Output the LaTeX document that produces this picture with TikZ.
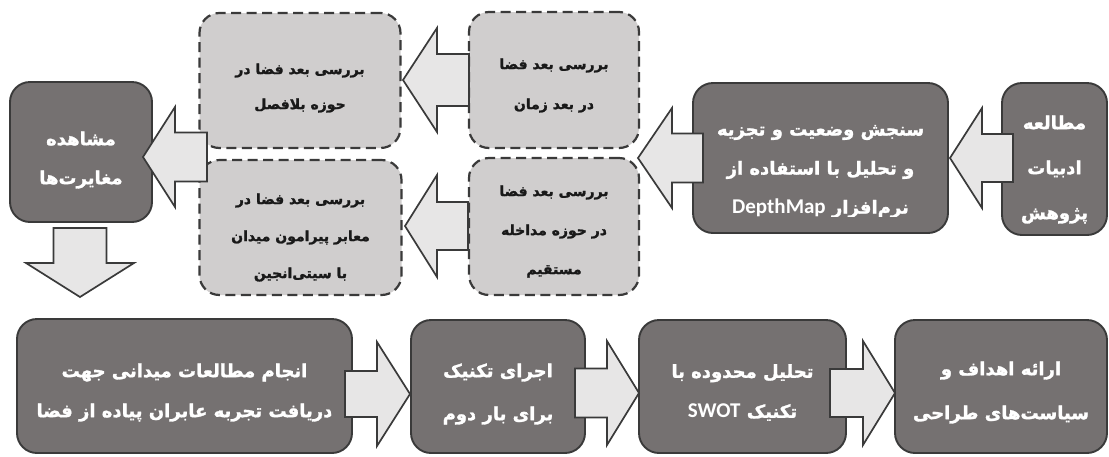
\documentclass[tikz,border=0pt]{standalone}
\usepackage{fontspec}
\newfontfamily\fa[Script=Arabic, BoldFeatures={FakeBold=1.6}]{DejaVu Sans}
\newfontfamily\lat{Carlito}
\TeXXeTstate=1
\definecolor{darkfill}{HTML}{757171}
\definecolor{dashfill}{HTML}{D0CECE}
\definecolor{arrowfill}{HTML}{E7E6E6}
\definecolor{edgecol}{HTML}{3A3A3A}
\newcommand\harrow[6]{\draw[blockarrow] (#1,#2) -- (#3,#2-#5) -- (#3,#2-#6) -- (#4,#2-#6) -- (#4,#2+#6) -- (#3,#2+#6) -- (#3,#2+#5) -- cycle;}
\newcommand\varrow[6]{\draw[blockarrow] (#2,#1) -- (#2-#5,#3) -- (#2-#6,#3) -- (#2-#6,#4) -- (#2+#6,#4) -- (#2+#6,#3) -- (#2+#5,#3) -- cycle;}
\newcommand\R[1]{\beginR #1\endR}
\newcommand\LL[1]{\beginL{\lat\bfseries\fontsize{21}{21}\selectfont #1}\endL}
\begin{document}
\begin{tikzpicture}[x=1pt,y=-1pt,
  darkbox/.style={draw=edgecol, line width=1.9pt, fill=darkfill, rounded corners=20pt, inner sep=0pt},
  dashbox/.style={draw=edgecol, line width=2.2pt, fill=dashfill, rounded corners=20pt,
    dash pattern=on 10pt off 5.5pt, inner sep=0pt},
  blockarrow/.style={draw=edgecol, line width=1.7pt, fill=arrowfill, line join=miter},
  wtext/.style={text=white, align=center, inner sep=0pt, font=\fa\bfseries\fontsize{18}{#1}\selectfont},
  btext/.style={text=black!90, align=center, inner sep=0pt, font=\fa\bfseries\fontsize{14}{#1}\selectfont}]
\useasboundingbox (0,0) rectangle (1109,456);
\fill[white] (0,0) rectangle (1109,456);
% dark boxes
\node[darkbox, minimum width=105pt, minimum height=152pt] (m) at (1054.5,159) {};
\node[wtext=45] (mt) at (1054.5,169.5) {\R{مطالعه}\\\R{ادبیات}\\\R{پژوهش}};
\node[darkbox, minimum width=255pt, minimum height=150pt] (s) at (820.5,158) {};
\begin{scope}
\clip (693,83) rectangle (948,216);
\node[wtext=39] (st) at (820.5,171.5)
  {\R{سنجش وضعیت و تجزیه}\\\R{و تحلیل با استفاده از}\\\R{نرم‌افزار \LL{DepthMap}}};
\end{scope}
\node[darkbox, minimum width=142pt, minimum height=140pt] (mo) at (81,152) {};
\node[wtext=39] (mot) at (81,160) {\R{مشاهده}\\\R{مغایرت‌ها}};
\node[darkbox, minimum width=335pt, minimum height=134pt] (b1) at (184.5,386) {};
\node[wtext=40] (b1t) at (184.5,392.5) {\R{انجام مطالعات میدانی جهت}\\\R{دریافت تجربه عابران پیاده از فضا}};
\node[darkbox, minimum width=174pt, minimum height=133pt] (b2) at (498,386.5) {};
\node[wtext=43] (b2t) at (498,394) {\R{اجرای تکنیک}\\\R{برای بار دوم}};
\node[darkbox, minimum width=207pt, minimum height=133pt] (b3) at (742.5,386.5) {};
\node[wtext=40] (b3t) at (742.5,392.5) {\R{تحلیل محدوده با}\\\R{تکنیک \LL{SWOT}}};
\node[darkbox, minimum width=212pt, minimum height=133pt] (b4) at (1001,386.5) {};
\node[wtext=44] (b4t) at (1001,392.5) {\R{ارائه اهداف و}\\\R{سیاست‌های طراحی}};
% dashed boxes
\node[dashbox, minimum width=170pt, minimum height=136pt] (d1) at (554,80) {};
\node[btext=40] (d1t) at (554,85.5) {\R{بررسی بعد فضا}\\\R{در بعد زمان}};
\node[dashbox, minimum width=170pt, minimum height=137pt] (d2) at (554,226.5) {};
\node[btext=39] (d2t) at (554,231.5) {\R{بررسی بعد فضا}\\\R{در حوزه مداخله}\\\R{مستقیم}};
\node[dashbox, minimum width=201pt, minimum height=135pt] (d3) at (300,80.5) {};
\node[btext=35] (d3t) at (300,88) {\R{بررسی بعد فضا در}\\\R{حوزه بلافصل}};
\node[dashbox, minimum width=202pt, minimum height=135pt] (d4) at (300.5,227.5) {};
\node[btext=37] (d4t) at (300.5,237.5) {\R{بررسی بعد فضا در}\\\R{معابر پیرامون میدان}\\\R{با سیتی‌انجین}};
% block arrows
\harrow{950}{158}{982}{1013}{50}{24}
\harrow{638}{158}{672}{703}{50}{24.5}
\harrow{403}{80}{437}{469}{52}{26}
\harrow{405}{226}{437}{468}{51}{24}
\harrow{143}{157}{175}{207}{50}{24.5}
\varrow{297}{80}{263}{228}{54}{26.5}
\harrow{410}{394}{377}{345}{52}{23}
\harrow{639}{393}{607}{575}{52}{24.5}
\harrow{895}{393}{863}{830}{52}{24}
\end{tikzpicture}
\end{document}
